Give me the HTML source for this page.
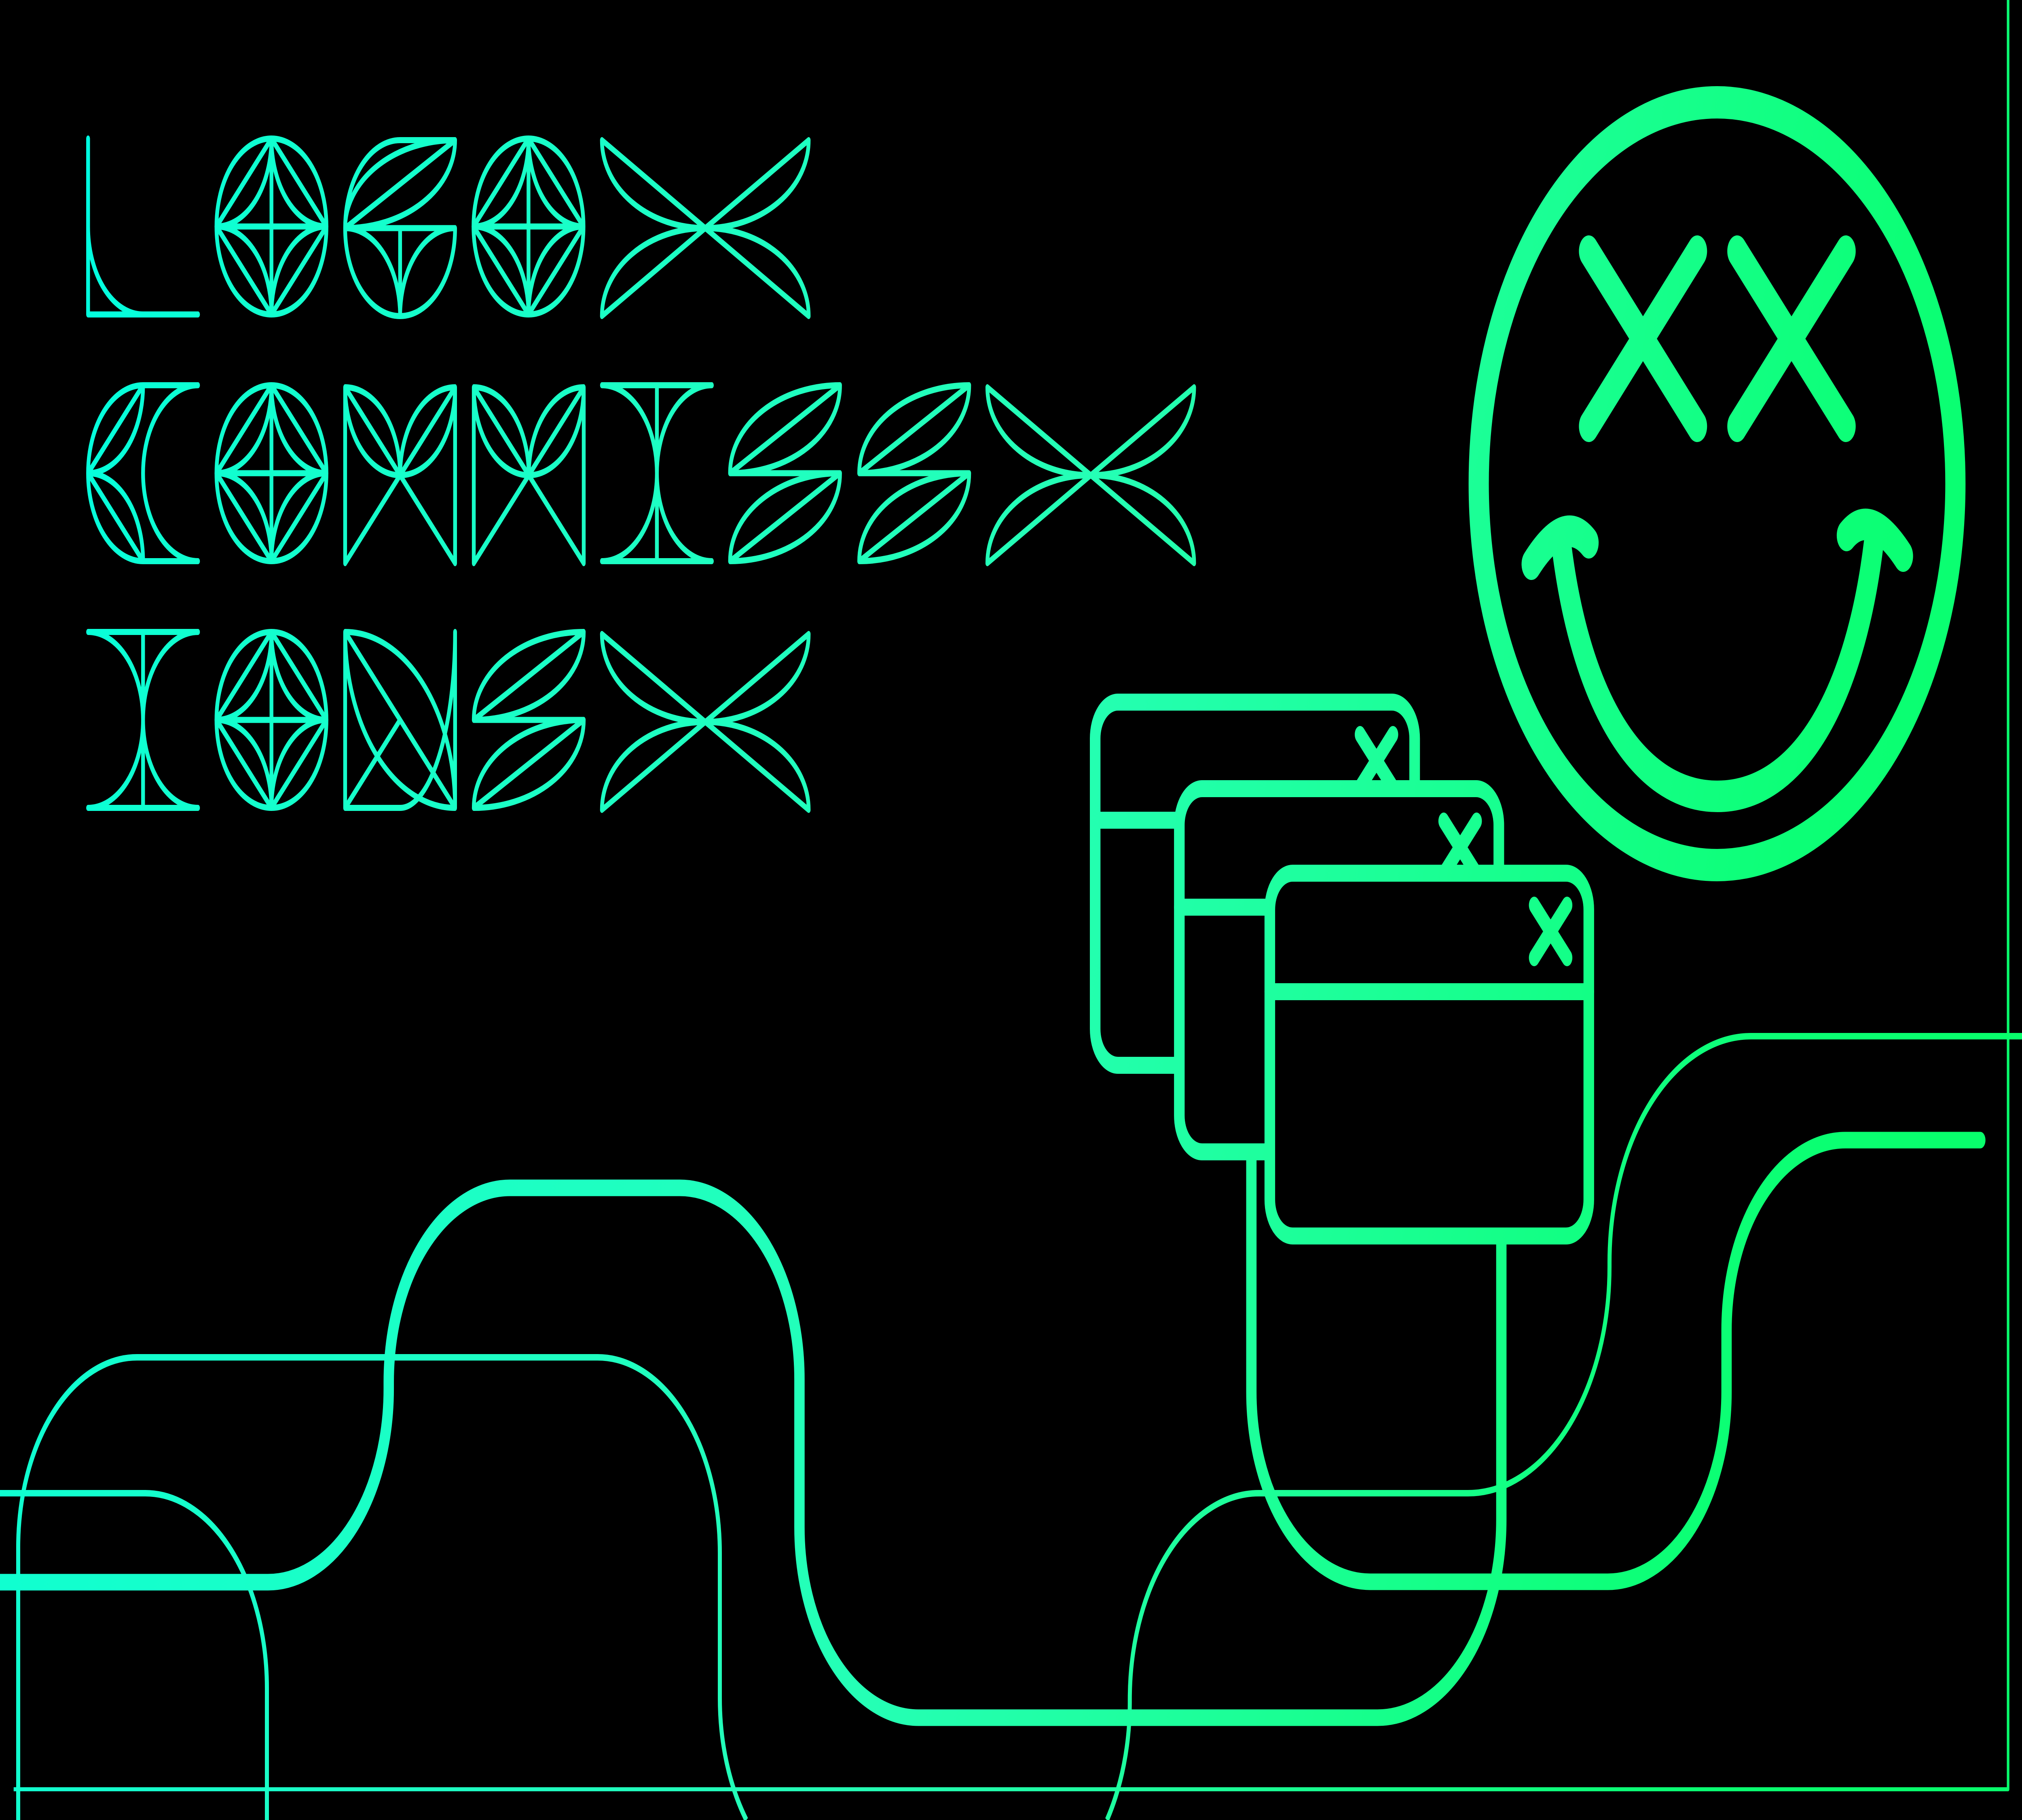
<!DOCTYPE html>
<html lang="en">
<head>
<meta charset="utf-8">
<title>LOGOX COMMISSX IONSX</title>
<style>
html,body{margin:0;padding:0;background:#000;width:100%;height:100%;overflow:hidden}
svg{display:block;width:100vw;height:100vh}
.wordlayer text{font-family:"Liberation Sans",sans-serif;font-size:450px;fill:transparent}
</style>
</head>
<body>
<svg xmlns="http://www.w3.org/2000/svg" viewBox="0 0 8000 4500" preserveAspectRatio="none">
<defs>
<linearGradient id="g" gradientUnits="userSpaceOnUse" x1="0" y1="0" x2="8257" y2="2477">
<stop offset="0.05" stop-color="#00FFE2"/>
<stop offset="0.13" stop-color="#10FFD0"/>
<stop offset="0.31" stop-color="#1CFFC5"/>
<stop offset="0.52" stop-color="#25FFB5"/>
<stop offset="0.68" stop-color="#1CFF98"/>
<stop offset="0.86" stop-color="#0CFF76"/>
<stop offset="0.95" stop-color="#08FF6C"/>
</linearGradient>
<mask id="m" maskUnits="userSpaceOnUse" x="0" y="0" width="8000" height="4500">
<rect width="8000" height="4500" fill="#000"/>
<g fill="none" stroke="#fff" stroke-linejoin="round">

<!-- frame -->
<path stroke-width="10" d="M54 4424H7945V0"/>

<!-- thin / medium lines -->
<path stroke-width="16" d="M8000 2562H6928A560 560 0 0 0 6368 3122V3132A560 560 0 0 1 5808 3692H4980A510 510 0 0 0 4470 4202V4210A510 510 0 0 1 4379.5 4500"/>
<path stroke-width="16" d="M72 4500V3826A470 470 0 0 1 542 3356H2364A484 484 0 0 1 2848 3840V4199A484 484 0 0 0 2953 4500"/>
<path stroke-width="16" d="M0 3692H575A482 482 0 0 1 1056 4174V4500"/>

<!-- thick lines -->
<path stroke-width="41" d="M0 3912H1060A478 478 0 0 0 1538 3434V3417A480 480 0 0 1 2018 2937H2690A473 473 0 0 1 3163 3410V3776A471 471 0 0 0 3634 4247H5450A490 490 0 0 0 5940 3757V2900"/>
<path stroke-width="41" stroke-linecap="round" d="M7835 2819H7301A470 470 0 0 0 6831 3289V3441A470 470 0 0 1 6361 3911H5421A470 470 0 0 1 4951 3441V2800"/>

<g stroke-linecap="round">
<!-- smiley -->
<circle cx="6793.5" cy="1196" r="943" stroke-width="80"/>
<g stroke-width="78">
<path d="M6286 621L6715 1054M6715 621L6286 1054"/>
<path d="M6873 621L7303 1054M7303 621L6873 1054"/>
<path d="M6177 1345C6250 1720 6470 1969 6795 1969C7120 1969 7340 1720 7413 1345"/>
<path d="M6059 1395Q6190 1265 6286 1342"/>
<path d="M7306 1324Q7400 1250 7530 1375"/>
</g>

<!-- windows -->
<g stroke-width="42">
<rect x="4333" y="1736" width="1264" height="898" rx="90" ry="90" fill="#000"/>
<path d="M4333 2028H5597"/>
<path d="M5381 1816L5511 1946M5511 1816L5381 1946"/>
<rect x="4666" y="1950" width="1264" height="898" rx="90" ry="90" fill="#000"/>
<path d="M4666 2243H5930"/>
<path d="M5712 2030L5842 2160M5842 2030L5712 2160"/>
<rect x="5024" y="2159" width="1262" height="897" rx="90" ry="90" fill="#000"/>
<path d="M5024 2452H6286"/>
<path d="M6070 2238L6200 2368M6200 2238L6070 2368"/>
</g>

<!-- ornamental lettering: geometric line art -->
<g stroke-width="15">
<!-- row 1 -->
<g transform="translate(348.5 342.5)"><path d="M0 0V435H435M0 217.5A217.5 217.5 0 0 0 217.5 435"/></g>
<g transform="translate(856.5 342.5)"><circle cx="217.5" cy="217.5" r="217.5"/><path d="M217.5 0V435M0 217.5H435M217.5 0L0 217.5L217.5 435L435 217.5ZM217.5 0A217.5 217.5 0 0 1 0 217.5A217.5 217.5 0 0 1 217.5 435A217.5 217.5 0 0 1 435 217.5A217.5 217.5 0 0 1 217.5 0Z"/></g>
<g transform="translate(1365.5 346.5)"><path d="M0 217.5A217.5 217.5 0 0 1 217.5 0H435M0 217.5A435 217.5 0 0 1 435 0A435 217.5 0 0 1 0 217.5ZM0 217.5L435 0M0 217.5H435M0 217.5A217.5 217.5 0 0 0 435 217.5M217.5 217.5V435M0 217.5A217.5 217.5 0 0 1 217.5 435A217.5 217.5 0 0 1 435 217.5"/></g>
<g transform="translate(1873.5 342.5)"><circle cx="217.5" cy="217.5" r="217.5"/><path d="M217.5 0V435M0 217.5H435M217.5 0L0 217.5L217.5 435L435 217.5ZM217.5 0A217.5 217.5 0 0 1 0 217.5A217.5 217.5 0 0 1 217.5 435A217.5 217.5 0 0 1 435 217.5A217.5 217.5 0 0 1 217.5 0Z"/></g>
<g transform="translate(2381.5 346.5)"><path d="M0 0L818 435M818 0L0 435M0 0A409 217.5 0 0 0 409 217.5M818 0A409 217.5 0 0 1 409 217.5M0 435A409 217.5 0 0 1 409 217.5M818 435A409 217.5 0 0 0 409 217.5"/></g>
<!-- row 2 -->
<g transform="translate(348.5 952.5)"><path d="M435 0H217.5A217.5 217.5 0 0 0 217.5 435H435M435 0A217.5 217.5 0 0 0 435 435M217.5 0A217.5 217.5 0 0 1 0 217.5A217.5 217.5 0 0 1 217.5 435M217.5 0L0 217.5L217.5 435"/></g>
<g transform="translate(856.5 952.5)"><circle cx="217.5" cy="217.5" r="217.5"/><path d="M217.5 0V435M0 217.5H435M217.5 0L0 217.5L217.5 435L435 217.5ZM217.5 0A217.5 217.5 0 0 1 0 217.5A217.5 217.5 0 0 1 217.5 435A217.5 217.5 0 0 1 435 217.5A217.5 217.5 0 0 1 217.5 0Z"/></g>
<g transform="translate(1365.5 957.5)"><path d="M0 435V0M435 435V0M0 0A217.5 217.5 0 0 1 217.5 217.5M0 0A217.5 217.5 0 0 0 217.5 217.5M435 0A217.5 217.5 0 0 0 217.5 217.5M435 0A217.5 217.5 0 0 1 217.5 217.5M0 0L217.5 217.5L435 0M0 435L217.5 217.5L435 435"/></g>
<g transform="translate(1874.5 957.5)"><path d="M0 435V0M435 435V0M0 0A217.5 217.5 0 0 1 217.5 217.5M0 0A217.5 217.5 0 0 0 217.5 217.5M435 0A217.5 217.5 0 0 0 217.5 217.5M435 0A217.5 217.5 0 0 1 217.5 217.5M0 0L217.5 217.5L435 0M0 435L217.5 217.5L435 435"/></g>
<g transform="translate(2381.5 952.5)"><path d="M0 0H435M0 435H435M217.5 0V435M0 0A217.5 217.5 0 0 1 0 435M435 0A217.5 217.5 0 0 0 435 435"/></g>
<g transform="translate(2888.5 952.5)"><path d="M0 217.5A435 217.5 0 0 1 435 0A435 217.5 0 0 1 0 217.5ZM0 217.5L435 0M0 217.5H435M0 435A435 217.5 0 0 1 435 217.5A435 217.5 0 0 1 0 435ZM0 435L435 217.5"/></g>
<g transform="translate(3399.5 952.5)"><path d="M0 217.5A435 217.5 0 0 1 435 0A435 217.5 0 0 1 0 217.5ZM0 217.5L435 0M0 217.5H435M0 435A435 217.5 0 0 1 435 217.5A435 217.5 0 0 1 0 435ZM0 435L435 217.5"/></g>
<g transform="translate(3906.5 957.5)"><path d="M0 0L818 435M818 0L0 435M0 0A409 217.5 0 0 0 409 217.5M818 0A409 217.5 0 0 1 409 217.5M0 435A409 217.5 0 0 1 409 217.5M818 435A409 217.5 0 0 0 409 217.5"/></g>
<!-- row 3 -->
<g transform="translate(348.5 1562.5)"><path d="M0 0H435M0 435H435M217.5 0V435M0 0A217.5 217.5 0 0 1 0 435M435 0A217.5 217.5 0 0 0 435 435"/></g>
<g transform="translate(856.5 1562.5)"><circle cx="217.5" cy="217.5" r="217.5"/><path d="M217.5 0V435M0 217.5H435M217.5 0L0 217.5L217.5 435L435 217.5ZM217.5 0A217.5 217.5 0 0 1 0 217.5A217.5 217.5 0 0 1 217.5 435A217.5 217.5 0 0 1 435 217.5A217.5 217.5 0 0 1 217.5 0Z"/></g>
<g transform="translate(1365.5 1562.5)"><path d="M0 0V435H217.5M435 0V435M0 0L435 435M0 0A435 435 0 0 1 435 435M0 0A435 435 0 0 0 435 435M435 0A217.5 435 0 0 1 217.5 435M217.5 217.5L0 435"/></g>
<g transform="translate(1874.5 1562.5)"><path d="M0 217.5A435 217.5 0 0 1 435 0A435 217.5 0 0 1 0 217.5ZM0 217.5L435 0M0 217.5H435M0 435A435 217.5 0 0 1 435 217.5A435 217.5 0 0 1 0 435ZM0 435L435 217.5"/></g>
<g transform="translate(2381.5 1567.5)"><path d="M0 0L818 435M818 0L0 435M0 0A409 217.5 0 0 0 409 217.5M818 0A409 217.5 0 0 1 409 217.5M0 435A409 217.5 0 0 1 409 217.5M818 435A409 217.5 0 0 0 409 217.5"/></g>
</g>
</g>
</g>
</mask>
</defs>
<rect width="8000" height="4500" fill="#000"/>
<rect width="8000" height="4500" fill="url(#g)" mask="url(#m)"/>
<g class="wordlayer">
<text x="341" y="730" textLength="2866" lengthAdjust="spacingAndGlyphs">LOGOX</text>
<text x="341" y="1340" textLength="4389" lengthAdjust="spacingAndGlyphs">COMMISSX</text>
<text x="341" y="1950" textLength="2866" lengthAdjust="spacingAndGlyphs">IONSX</text>
</g>
</svg>
</body>
</html>
